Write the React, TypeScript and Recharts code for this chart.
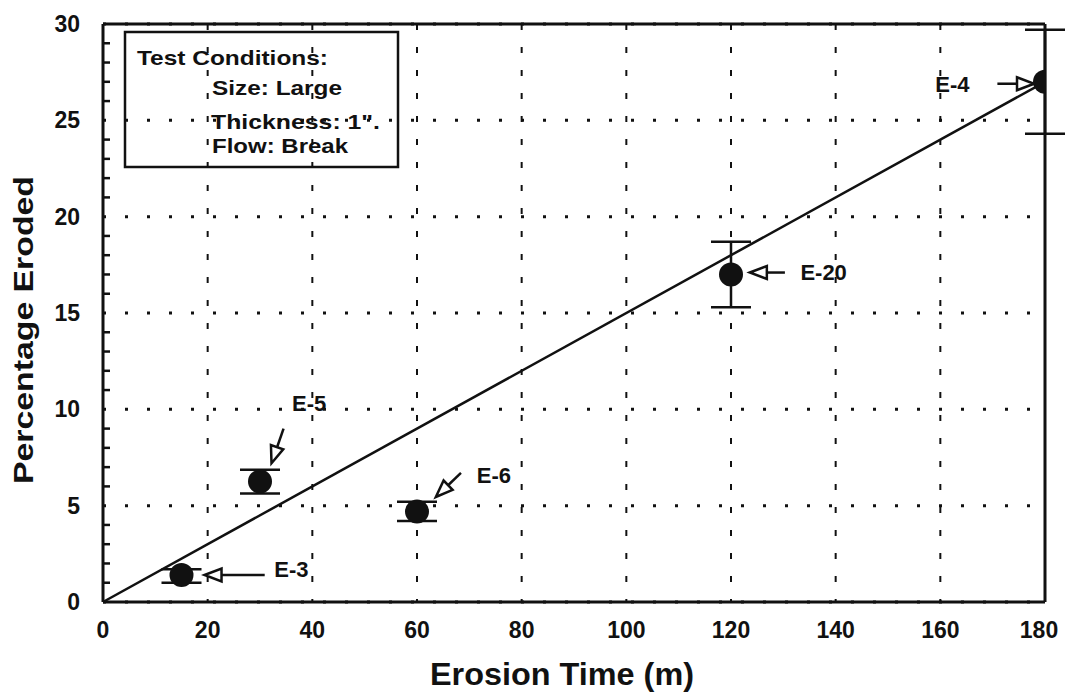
import React from 'react';
import {
  ComposedChart,
  Scatter,
  XAxis,
  YAxis,
  CartesianGrid,
  ErrorBar,
  ReferenceLine,
  ReferenceDot,
  Label,
} from 'recharts';

// ---- data ----
const runLabels = ['E-3', 'E-5', 'E-6', 'E-20', 'E-4'];
const erosionTime = [15, 30, 60, 120, 180];
const percentEroded = [1.4, 6.25, 4.7, 17.0, 27.0];
const errorLow = [0.4, 0.62, 0.5, 1.7, 2.7];
const errorHigh = [0.3, 0.62, 0.5, 1.7, 2.7];

const fitTime = [0, 180];
const fitPercent = [0, 27];

const xTicks = [0, 20, 40, 60, 80, 100, 120, 140, 160, 180];
const yTicks = [0, 5, 10, 15, 20, 25, 30];
const yMinorTicks = [1, 2, 3, 4, 6, 7, 8, 9, 11, 12, 13, 14, 16, 17, 18, 19, 21, 22, 23, 24, 26, 27, 28, 29];

// annotation arrows (data units): tail -> tip
const arrowTailX = [30.9, 34.5, 68.4, 130.3, 170.9];
const arrowTailY = [1.4, 9.0, 6.7, 17.1, 26.9];
const arrowTipX = [19.4, 32.2, 63.6, 123.6, 177.9];
const arrowTipY = [1.4, 7.2, 5.45, 17.1, 26.9];
const labelX = [36.0, 39.4, 74.7, 137.7, 162.3];
const labelY = [1.7, 10.3, 6.6, 17.1, 26.9];

const legendLines = ['Test Conditions:', 'Size: Large', 'Thickness: 1".', 'Flow: Break'];

const points = erosionTime.map((t, i) => ({
  time: t,
  pct: percentEroded[i],
  err: [errorLow[i], errorHigh[i]],
}));

const FONT = '"Liberation Sans", Arial, Helvetica, sans-serif';
const INK = '#111';

const Arrow = (props: any) => {
  const { x1, y1, x2, y2 } = props;
  if ([x1, y1, x2, y2].some((v) => typeof v !== 'number' || isNaN(v))) return null;
  const dx = x2 - x1;
  const dy = y2 - y1;
  const len = Math.hypot(dx, dy) || 1;
  const ux = dx / len;
  const uy = dy / len;
  const nx = -uy;
  const ny = ux;
  const head = 17;
  const half = 6.5;
  const bx = x2 - ux * head;
  const by = y2 - uy * head;
  return (
    <g>
      <line x1={x1} y1={y1} x2={bx} y2={by} stroke={INK} strokeWidth={2.5} />
      <polygon
        points={`${x2},${y2} ${bx + nx * half},${by + ny * half} ${bx - nx * half},${by - ny * half}`}
        fill="#fff"
        stroke={INK}
        strokeWidth={2.5}
      />
    </g>
  );
};

const MinorTick = (props: any) => {
  const { x1, y1 } = props;
  if (typeof x1 !== 'number' || typeof y1 !== 'number') return null;
  return <line x1={x1} y1={y1} x2={x1 + 7} y2={y1} stroke={INK} strokeWidth={2.5} />;
};

const Dot = (props: any) => {
  const { cx, cy } = props;
  if (typeof cx !== 'number' || typeof cy !== 'number') return null;
  return <circle cx={cx} cy={cy} r={12} fill={INK} />;
};

const XTick = (props: any) => {
  const { x, y, payload } = props;
  const v = payload?.value;
  const dx = v === 180 ? -6 : 0;
  return (
    <text x={x + dx} y={y} dy="0.71em" textAnchor="middle" fontFamily={FONT} fontWeight="bold" fontSize={23} fill={INK}>
      {v}
    </text>
  );
};

const XTitle = (props: any) => {
  const vb = props.viewBox || {};
  const x = (vb.x ?? 103) + (vb.width ?? 945) / 2 - 12;
  const y = (vb.y ?? 602) + 83;
  return (
    <text x={x} y={y} textAnchor="middle" fontFamily={FONT} fontWeight="bold" fontSize={31} fill={INK}
      textLength={264} lengthAdjust="spacingAndGlyphs">
      Erosion Time (m)
    </text>
  );
};

const YTitle = (props: any) => {
  const vb = props.viewBox || {};
  const x = (vb.x ?? 23) + 10;
  const y = 330;
  return (
    <text x={x} y={y} transform={`rotate(-90, ${x}, ${y})`} textAnchor="middle" fontFamily={FONT}
      fontWeight="bold" fontSize={28} fill={INK} textLength={308} lengthAdjust="spacingAndGlyphs">
      Percentage Eroded
    </text>
  );
};

const tickStyle = { fontFamily: FONT, fontWeight: 'bold', fontSize: 23, fill: INK };

export default function App() {
  return (
    <div style={{ position: 'absolute', left: 0, top: 0, width: 1065, height: 693, background: '#fff' }}>
      <ComposedChart
        width={1065}
        height={693}
        margin={{ top: 24, right: 20, bottom: 31, left: 23 }}
        data={points}
      >
        <CartesianGrid
          horizontal={true}
          vertical={false}
          stroke={INK}
          strokeWidth={3}
          strokeDasharray="3 19"
        />
        <CartesianGrid
          horizontal={false}
          vertical={true}
          stroke={INK}
          strokeWidth={2}
          strokeDasharray="6 17"
        />
        <XAxis
          type="number"
          dataKey="time"
          domain={[0, 180]}
          ticks={xTicks}
          allowDataOverflow
          height={60}
          tickLine={false}
          tickSize={0}
          tickMargin={20}
          axisLine={{ stroke: INK, strokeWidth: 3 }}
          tick={<XTick />}
          interval={0}
        >
          <Label content={<XTitle />} />
        </XAxis>
        <YAxis
          type="number"
          dataKey="pct"
          domain={[0, 30]}
          ticks={yTicks}
          allowDataOverflow
          width={80}
          tickLine={false}
          tickSize={0}
          tickMargin={23}
          axisLine={{ stroke: INK, strokeWidth: 3 }}
          tick={tickStyle}
          interval={0}
        >
          <Label content={<YTitle />} />
        </YAxis>
        <ReferenceLine y={30} stroke={INK} strokeWidth={3} ifOverflow="extendDomain" />
        <ReferenceLine x={180} stroke={INK} strokeWidth={3} ifOverflow="extendDomain" />
        {yMinorTicks.map((v) => (
          <ReferenceLine
            key={`minor-${v}`}
            segment={[
              { x: 0, y: v },
              { x: 180, y: v },
            ]}
            ifOverflow="visible"
            shape={(p: any) => <MinorTick {...p} />}
          />
        ))}
        <ReferenceLine
          segment={[
            { x: fitTime[0], y: fitPercent[0] },
            { x: fitTime[1], y: fitPercent[1] },
          ]}
          stroke={INK}
          strokeWidth={2.5}
          ifOverflow="visible"
        />
        <Scatter
          data={points}
          dataKey="pct"
          fill={INK}
          shape={<Dot />}
          isAnimationActive={false}
        >
          <ErrorBar dataKey="err" direction="y" width={20} stroke={INK} strokeWidth={2.5} isAnimationActive={false} />
        </Scatter>
        {runLabels.map((lab, i) => (
          <ReferenceLine
            key={`arrow-${lab}`}
            segment={[
              { x: arrowTailX[i], y: arrowTailY[i] },
              { x: arrowTipX[i], y: arrowTipY[i] },
            ]}
            ifOverflow="visible"
            shape={(p: any) => <Arrow {...p} />}
          />
        ))}
        {runLabels.map((lab, i) => (
          <ReferenceDot
            key={`label-${lab}`}
            x={labelX[i]}
            y={labelY[i]}
            r={0}
            ifOverflow="visible"
            shape={(p: any) => (
              <text x={p.cx} y={p.cy} dy="0.36em" textAnchor="middle" fontFamily={FONT} fontWeight="bold" fontSize={22} fill={INK}>
                {lab}
              </text>
            )}
          />
        ))}
      </ComposedChart>
      <svg
        width={1065}
        height={693}
        style={{ position: 'absolute', left: 0, top: 0, pointerEvents: 'none' }}
      >
        <rect x={125} y={32} width={273} height={135} fill="none" stroke={INK} strokeWidth={2.5} />
        <text x={137} y={65} fontFamily={FONT} fontWeight="bold" fontSize={21} fill={INK} textLength={191} lengthAdjust="spacingAndGlyphs">
          {legendLines[0]}
        </text>
        <text x={212} y={95} fontFamily={FONT} fontWeight="bold" fontSize={21} fill={INK} textLength={130} lengthAdjust="spacingAndGlyphs">
          {legendLines[1]}
        </text>
        <text x={211} y={129} fontFamily={FONT} fontWeight="bold" fontSize={21} fill={INK} textLength={169} lengthAdjust="spacingAndGlyphs">
          {legendLines[2]}
        </text>
        <text x={212} y={153} fontFamily={FONT} fontWeight="bold" fontSize={21} fill={INK} textLength={136} lengthAdjust="spacingAndGlyphs">
          {legendLines[3]}
        </text>
      </svg>
    </div>
  );
}
